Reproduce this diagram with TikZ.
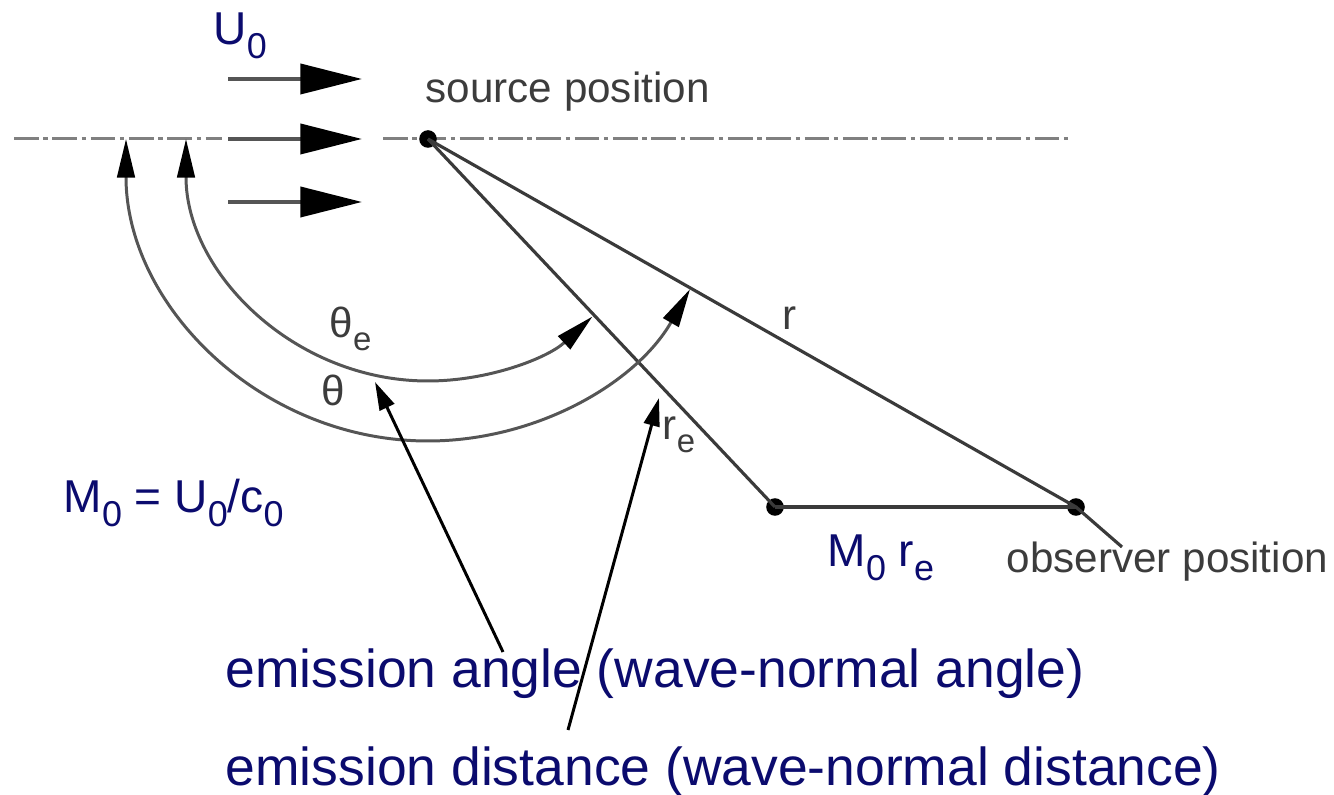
\documentclass[tikz,border=0pt]{standalone}
\usepackage{fontspec}
\setmainfont{Liberation Sans}
\usetikzlibrary{arrows.meta}
\definecolor{diagAzul}{HTML}{0B0B6E}
\definecolor{diagGris}{HTML}{3C3C3C}
\definecolor{diagLinea}{HTML}{3A3A3A}
\definecolor{diagFlecha}{HTML}{555555}
\newcommand{\bajo}[1]{\raisebox{-0.3em}{\scalebox{0.78}{#1}}}

\begin{document}
\begin{tikzpicture}[
  x=0.01cm, y=-0.01cm,
  eje/.style={draw=gray, line width=0.85pt, dash pattern=on 7pt off 1.3pt on 1.3pt off 1.3pt},
  linea/.style={draw=diagLinea, line width=0.9pt},
  flujo/.style={draw=diagFlecha, line width=1.15pt, -{Triangle[length=17.5pt, width=8.5pt, color=black]}},
  angulo/.style={draw=diagFlecha, line width=0.85pt,
    {Triangle[length=11pt, width=5pt, color=black]}-{Triangle[length=11pt, width=5pt, color=black]}},
  puntero/.style={draw=black, line width=0.85pt, -{Triangle[length=8pt, width=4.5pt]}},
  punto/.style={circle, fill=black, inner sep=0pt, minimum size=5pt},
  gris/.style={text=diagGris, font=\fontsize{12}{14}\selectfont, inner sep=0pt, anchor=base west},
  azul/.style={text=diagAzul, font=\fontsize{13.1}{16}\selectfont, inner sep=0pt, anchor=base west},
  nota/.style={text=diagAzul, font=\fontsize{15.2}{18}\selectfont, inner sep=0pt, anchor=base west},
]
  \useasboundingbox (0,0) rectangle (1334,795);

  % Eje (linea de trazo y punto)
  \draw[eje] (14,139) -- (222,139);
  \draw[eje] (383,139) -- (1070,139);

  % Flujo U0
  \foreach \y in {79,139,202}
    \draw[flujo] (228,\y) -- (362,\y);
  \node[azul] (velocidad) at (213,45) {U\bajo{0}};

  % Puntos: fuente, emision, observador
  \node[punto] (fuente) at (428,139) {};
  \node[punto] (emision) at (775,507) {};
  \node[punto] (observador) at (1076,507) {};
  \coordinate (cola) at (1122,547);

  \draw[linea] (fuente.center) -- (emision.center);
  \draw[linea] (fuente.center) -- (observador.center) -- (cola);
  \draw[linea] (emision.center) -- (observador.center);

  % Arcos de los angulos
  \draw[angulo] ([shift={(-242,0)}]fuente.center) arc[start angle=180, end angle=47.2, radius=242];
  \draw[angulo] ([shift={(-302,0)}]fuente.center) arc[start angle=180, end angle=29.8, radius=302];

  % Etiquetas
  \node[gris] (etiqFuente) at (425,103) {source position};
  \node[gris] (etiqObservador) at (1006,573) {observer position};
  \node[gris] (thetaE) at (329,338) {θ\bajo{e}};
  \node[gris] (theta) at (321,406) {θ};
  \node[gris] (radio) at (782,330) {r};
  \node[gris] (radioE) at (662,440) {r\bajo{e}};
  \node[azul] (mach) at (63,513) {M\bajo{0} = U\bajo{0}/c\bajo{0}};
  \node[azul] (machRe) at (827,567) {M\bajo{0} r\bajo{e}};

  % Notas inferiores
  \node[nota] (notaAngulo) at (225,687) {emission angle (wave-normal angle)};
  \node[nota] (notaDistancia) at (225,785) {emission distance (wave-normal distance)};

  \coordinate (baseAngulo) at (503,652);
  \coordinate (puntaAngulo) at (375,382);
  \coordinate (baseDistancia) at (568,730);
  \coordinate (puntaDistancia) at (659,398);
  \draw[puntero] (baseAngulo) -- (puntaAngulo);
  \draw[puntero] (baseDistancia) -- (puntaDistancia);
\end{tikzpicture}
\end{document}
